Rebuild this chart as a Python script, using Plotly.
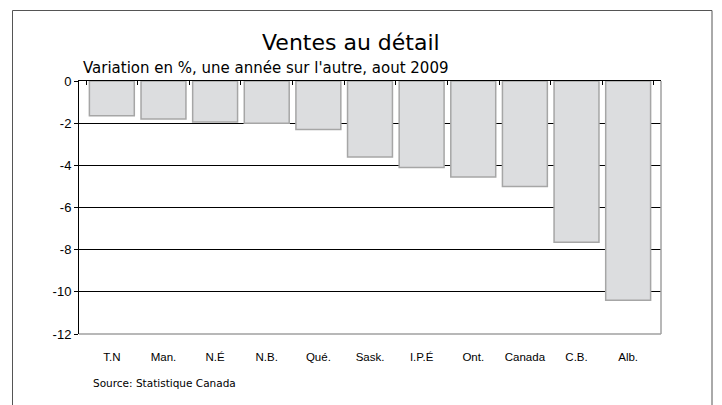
import plotly.graph_objects as go

regions = ["T.N", "Man.", "N.É", "N.B.", "Qué.", "Sask.", "I.P.É", "Ont.", "Canada", "C.B.", "Alb."]
values = [-1.65, -1.8, -1.95, -2.0, -2.3, -3.6, -4.1, -4.55, -5.0, -7.65, -10.4]
y_ticks = [0, -2, -4, -6, -8, -10, -12]

title_text = "Ventes au détail"
subtitle_text = "Variation en %, une année sur l'autre, aout 2009"
source_text = "Source: Statistique Canada"

# page body has an 8px offset; figure coordinates below account for it
OFF = 8
W, H = 722 - OFF, 405 - OFF
PL, PR, PT, PB = 79 - OFF, 661 - OFF, 81 - OFF, 334 - OFF
pw, ph = PR - PL, PB - PT


def px(x):
    return (x - OFF - PL) / pw


def py(y):
    return (PB - (y - OFF)) / ph


fig = go.Figure()
fig.add_trace(go.Bar(
    x=regions, y=values,
    marker=dict(color="#dcdddf", line=dict(color="#a6a6a6", width=1.5)),
    hoverinfo="x+y",
))
# invisible helper trace for the top axis (tick marks between categories)
fig.add_trace(go.Scatter(
    x=regions, y=values, xaxis="x2", mode="markers",
    marker=dict(opacity=0), hoverinfo="skip", showlegend=False,
))

fig.update_layout(
    width=W, height=H,
    margin=dict(l=PL, r=W - PR, t=PT, b=H - PB),
    paper_bgcolor="white", plot_bgcolor="white",
    showlegend=False,
    bargap=0.13,
    font=dict(family="Liberation Sans, Arial, sans-serif", color="black"),
    xaxis=dict(
        type="category", categoryorder="array", categoryarray=regions,
        showgrid=False, showline=False, zeroline=False, ticks="",
        tickfont=dict(family="Liberation Sans Narrow, Liberation Sans, Arial", size=11.5, color="black"),
        ticklabelstandoff=14,
    ),
    xaxis2=dict(
        type="category", categoryorder="array", categoryarray=regions,
        overlaying="x", matches="x", side="top",
        showticklabels=False, showgrid=False, zeroline=False,
        showline=True, linecolor="black", linewidth=1,
        ticks="inside", tickson="boundaries", ticklen=4, tickcolor="black", tickwidth=1,
    ),
    yaxis=dict(
        range=[-12, 0], tickvals=y_ticks, ticktext=[str(v) for v in y_ticks],
        showgrid=True, gridcolor="black", gridwidth=1,
        zeroline=False, showline=True, linecolor="black", linewidth=1,
        ticks="outside", ticklen=4, tickcolor="black",
        tickfont=dict(family="Liberation Sans, Arial", size=13, color="black"),
    ),
    shapes=[
        # plot frame right and bottom (gray)
        dict(type="line", xref="paper", yref="paper", x0=1, x1=1, y0=0, y1=1,
             line=dict(color="#a0a0a0", width=1.5)),
        dict(type="line", xref="paper", yref="paper", x0=0, x1=1, y0=0, y1=0,
             line=dict(color="#a0a0a0", width=1.5)),
        # outer chart border
        dict(type="rect", xref="paper", yref="paper",
             x0=px(12.5), x1=px(712), y0=py(420), y1=py(10.5),
             line=dict(color="#555555", width=1)),
    ],
    annotations=[
        dict(text=title_text, xref="paper", yref="paper", x=px(351), y=py(42),
             xanchor="center", yanchor="middle", showarrow=False,
             font=dict(family="DejaVu Sans", size=22, color="black")),
        dict(text=subtitle_text, xref="paper", yref="paper", x=px(81), y=py(68),
             xanchor="left", yanchor="middle", showarrow=False,
             font=dict(family="DejaVu Sans", size=15, color="black")),
        dict(text=source_text, xref="paper", yref="paper", x=px(91), y=py(383),
             xanchor="left", yanchor="middle", showarrow=False,
             font=dict(family="DejaVu Sans", size=10.5, color="black")),
    ],
)

fig.write_html("out.html")
